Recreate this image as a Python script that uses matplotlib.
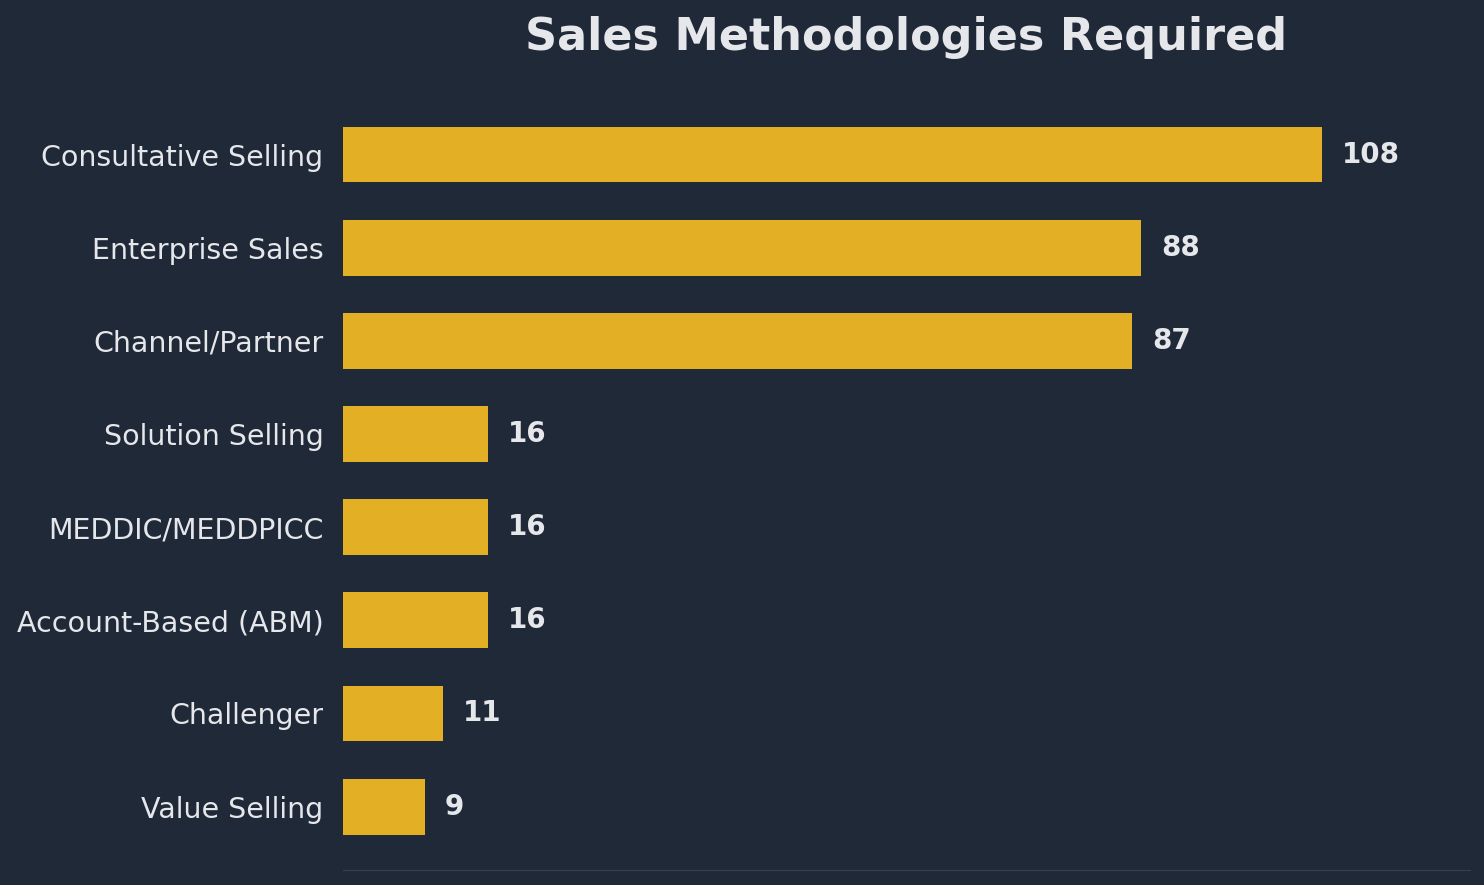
import matplotlib.pyplot as plt

categories = ["Consultative Selling", "Enterprise Sales", "Channel/Partner",
              "Solution Selling", "MEDDIC/MEDDPICC", "Account-Based (ABM)",
              "Challenger", "Value Selling"]
counts = [108, 88, 87, 16, 16, 16, 11, 9]

BG = "#202938"
BAR = "#e3af24"
TXT = "#e5e7eb"

fig = plt.figure(figsize=(14.84, 8.85), dpi=100, facecolor=BG)
ax = fig.add_axes([0.2311, 0.017, 0.7595, 0.88], facecolor=BG)

ypos = list(range(len(categories)))
ax.barh(ypos, counts, height=0.6, color=BAR)
for y, v in zip(ypos, counts):
    ax.text(v + 2.2, y, str(v), va="center", ha="left",
            color=TXT, fontsize=20, fontweight="bold")

ax.set_yticks(ypos)
ax.set_yticklabels(categories, fontsize=20.5, color=TXT)
ax.tick_params(axis="y", length=0, pad=14)
ax.set_xticks([])
ax.set_xlim(0, 124.3)
ax.set_ylim(7.68, -0.68)
for s in ["top", "right", "left"]:
    ax.spines[s].set_visible(False)
ax.spines["bottom"].set_color("#374151")

fig.text(0.6105, 0.958, "Sales Methodologies Required", ha="center", va="center",
         color=TXT, fontsize=32, fontweight="bold")

fig.savefig("out.png", facecolor=BG)
